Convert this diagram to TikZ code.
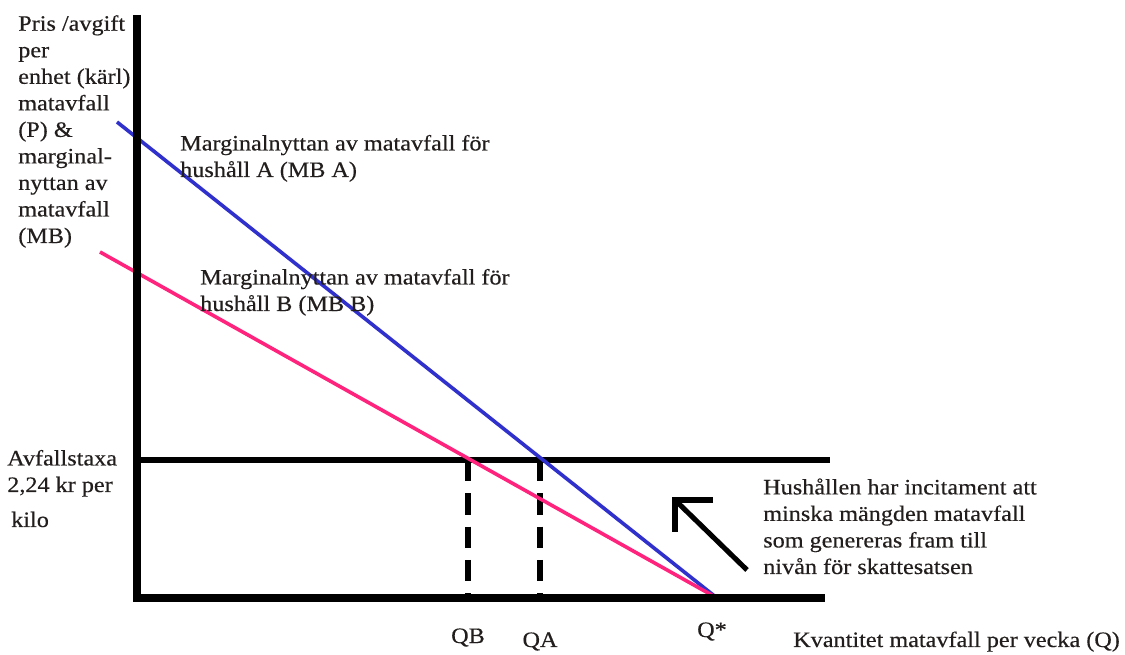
\documentclass[tikz,border=0pt]{standalone}
\usepackage{fontspec}
\setmainfont[FakeStretch=1.1,FakeBold=0.35]{Liberation Serif}
\definecolor{mbblue}{RGB}{48,48,205}
\definecolor{mbpink}{RGB}{255,35,125}
\definecolor{txt}{RGB}{35,30,30}
\begin{document}
\begin{tikzpicture}[x=0.75pt,y=-0.75pt,
  lbl/.style={anchor=base west,inner sep=0pt,align=left,text=txt,font=\fontsize{16.5}{19.9}\selectfont},
  qlbl/.style={anchor=base,inner sep=0pt,text=txt,font=\fontsize{16.5}{19.9}\selectfont},
  axis/.style={line width=6pt,black},
  price/.style={line width=3.8pt,black},
  dashline/.style={line width=3.8pt,black,dash pattern=on 16pt off 9pt},
  mbA/.style={line width=2.7pt,mbblue},
  mbB/.style={line width=2.7pt,mbpink},
  bigarrow/.style={line width=3.8pt,black}]
\useasboundingbox[fill=white] (0,0) rectangle (1125,655);
% coordinates
\coordinate (ytop) at (137,15);
\coordinate (ybot) at (137,602);
\coordinate (xleft) at (133,598);
\coordinate (xright) at (825,598);
\coordinate (pleft) at (137,460);
\coordinate (pright) at (830,460);
\coordinate (aStart) at (117,122);
\coordinate (bStart) at (100,252);
\coordinate (qstar) at (717,598);
\coordinate (qbTop) at (468,460);
\coordinate (qbBot) at (468,598);
\coordinate (qaTop) at (540,460);
\coordinate (qaBot) at (540,598);
\coordinate (arTip) at (675,500);
\coordinate (arTail) at (747,570);
\coordinate (arH) at (713,500);
\coordinate (arV) at (675,532);
% lines
\draw[price] (pleft) -- (pright);
\draw[dashline] (qbTop) -- (qbBot);
\draw[dashline] (qaTop) -- (qaBot);
\draw[mbA] (aStart) -- (qstar);
\draw[mbB] (bStart) -- (qstar);
\draw[axis] (ytop) -- (ybot);
\draw[axis] (xleft) -- (xright);
\draw[bigarrow] (arTip) -- (arTail);
\draw[bigarrow,line join=miter] (arH) -- (arTip) -- (arV);
% labels (base anchor = baseline of last line)
\node[lbl] (ylab) at (18,243) {Pris /avgift\\per\\enhet (kärl)\\matavfall\\(P) \&\\marginal-\\nyttan av\\matavfall\\(MB)};
\node[lbl] (labA) at (180,177) {Marginalnyttan av matavfall för\\hushåll A (MB A)};
\node[lbl] (labB) at (200,311) {Marginalnyttan av matavfall för\\hushåll B (MB B)};
\node[lbl] (tax) at (7,492) {Avfallstaxa\\2,24 kr per};
\node[lbl] (kilo) at (11,527) {kilo};
\node[lbl] (incl) at (763,574) {Hushållen har incitament att\\minska mängden matavfall\\som genereras fram till\\nivån för skattesatsen};
\node[qlbl] (qb) at (468,643) {QB};
\node[qlbl] (qa) at (540,647) {QA};
\node[qlbl] (qs) at (712,637) {Q*};
\node[lbl] (xlab) at (793,647) {Kvantitet matavfall per vecka (Q)};
\end{tikzpicture}
\end{document}
